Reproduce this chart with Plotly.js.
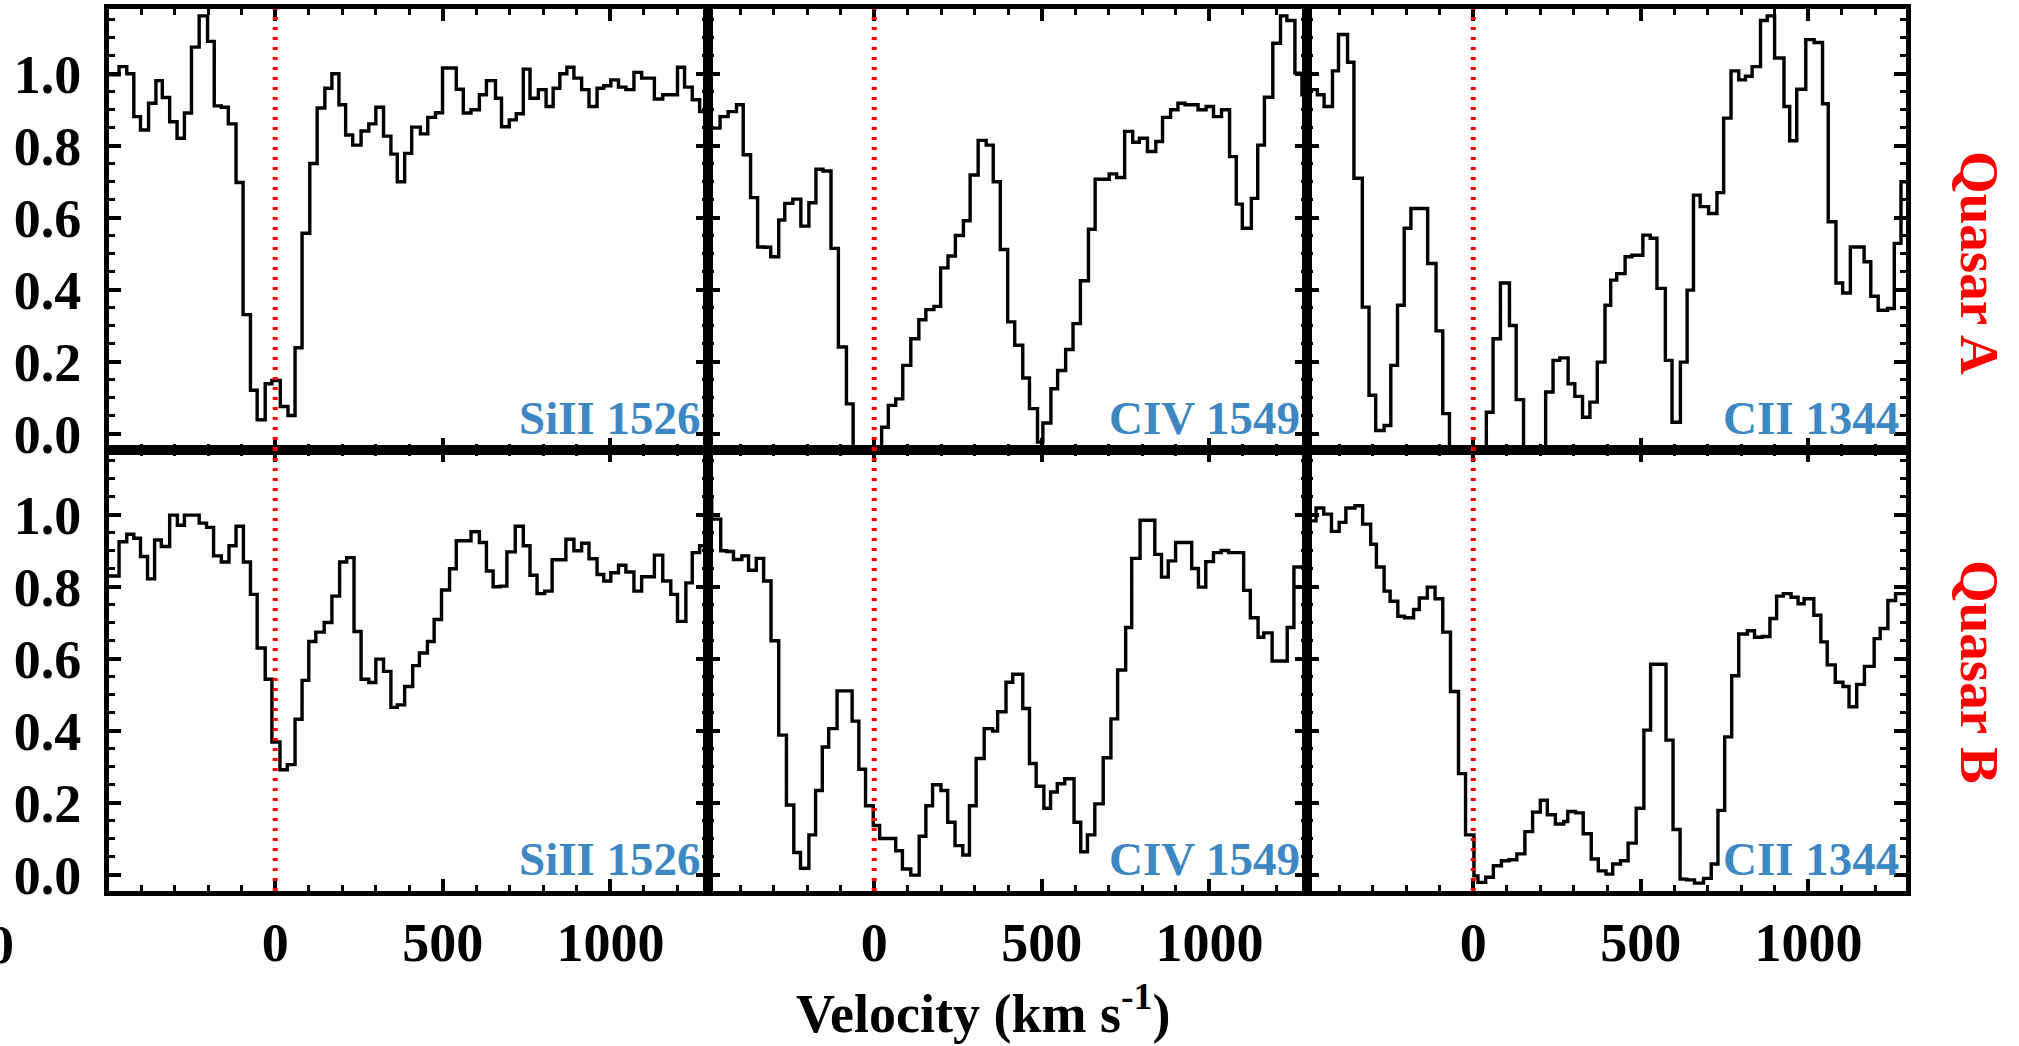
<!DOCTYPE html>
<html>
<head>
<meta charset="utf-8">
<script src="https://cdn.plot.ly/plotly-3.0.1.min.js"></script>
<style>
  html, body { margin: 0; padding: 0; background: #ffffff; }
  #chart { width: 2019px; height: 1046px; }
</style>
</head>
<body>
<div id="chart"></div>
<script>
// ---------------- data (velocity bin edge km/s, normalised flux) ----------------
const panelLines = ["SiII 1526", "CIV 1549", "CII 1344"];
const quasarNames = ["Quasar A", "Quasar B"];
const xTickVals = [0, 500, 1000];
const yTickVals = [0.0, 0.2, 0.4, 0.6, 0.8, 1.0];
const velRange = [-496, 1291];
const fluxRange = [-0.045, 1.18];

const siA = [[-496,0.997],[-466,1.020],[-443,1.000],[-422,0.881],[-402,0.844],[-378,0.918],[-356,0.981],[-337,0.934],[-315,0.867],[-293,0.821],[-271,0.891],[-250,1.074],[-227,1.161],[-202,1.090],[-182,0.911],[-161,0.907],[-140,0.861],[-117,0.698],[-96,0.331],[-74,0.121],[-54,0.039],[-30,0.139],[-10,0.148],[15,0.076],[38,0.051],[59,0.239],[80,0.557],[103,0.751],[125,0.905],[148,0.960],[169,1.000],[190,0.914],[210,0.830],[231,0.802],[256,0.841],[279,0.861],[300,0.907],[323,0.827],[345,0.777],[364,0.700],[386,0.779],[407,0.852],[433,0.833],[455,0.879],[478,0.892],[499,1.016],[540,0.957],[561,0.891],[584,0.900],[609,0.942],[630,0.981],[657,0.932],[675,0.853],[698,0.872],[719,0.889],[740,1.013],[760,0.932],[785,0.956],[808,0.909],[829,0.960],[849,1.000],[870,1.018],[891,0.988],[914,0.956],[936,0.909],[960,0.960],[980,0.967],[1001,0.983],[1024,0.963],[1046,0.956],[1070,1.004],[1093,0.988],[1131,0.930],[1156,0.942],[1200,1.018],[1221,0.963],[1244,0.928],[1266,0.895]];

const civA = [[-496,0.849],[-460,0.881],[-436,0.895],[-411,0.914],[-391,0.775],[-369,0.656],[-348,0.519],[-327,0.518],[-309,0.492],[-285,0.594],[-267,0.640],[-243,0.652],[-219,0.577],[-195,0.642],[-174,0.735],[-153,0.730],[-129,0.515],[-107,0.241],[-83,0.083],[-63,-0.100],[22,0.018],[42,0.079],[64,0.097],[85,0.190],[109,0.264],[133,0.317],[154,0.345],[178,0.354],[198,0.461],[220,0.494],[242,0.551],[266,0.592],[286,0.719],[310,0.815],[334,0.802],[355,0.700],[376,0.512],[398,0.311],[419,0.246],[443,0.155],[463,0.070],[487,-0.023],[503,0.030],[527,0.125],[547,0.176],[571,0.234],[593,0.306],[615,0.425],[639,0.568],[659,0.707],[701,0.722],[723,0.712],[747,0.840],[771,0.810],[791,0.821],[815,0.784],[840,0.812],[860,0.879],[884,0.900],[906,0.918],[927,0.914],[966,0.900],[990,0.909],[1012,0.881],[1036,0.900],[1060,0.770],[1080,0.638],[1098,0.571],[1125,0.654],[1144,0.802],[1164,0.935],[1189,1.085],[1212,1.161],[1231,1.148],[1255,1.002],[1276,0.942]];

const ciiA = [[-496,0.956],[-465,0.942],[-445,0.909],[-420,1.008],[-402,1.109],[-375,1.032],[-356,0.710],[-331,0.352],[-311,0.107],[-291,0.009],[-266,0.023],[-246,0.190],[-226,0.357],[-206,0.571],[-186,0.626],[-136,0.473],[-111,0.286],[-91,0.056],[-71,-0.100],[39,0.060],[59,0.264],[81,0.419],[108,0.301],[128,0.095],[150,-0.100],[216,0.116],[238,0.204],[258,0.211],[283,0.139],[303,0.104],[326,0.046],[348,0.088],[370,0.199],[393,0.357],[410,0.427],[428,0.445],[453,0.492],[473,0.496],[506,0.552],[528,0.543],[548,0.404],[573,0.204],[593,0.032],[618,0.199],[638,0.399],[657,0.663],[677,0.631],[702,0.612],[727,0.670],[747,0.877],[769,1.008],[792,0.983],[812,0.993],[832,1.020],[857,1.148],[877,1.161],[899,1.044],[927,0.909],[944,0.814],[965,0.957],[992,1.095],[1017,1.087],[1042,0.917],[1059,0.589],[1082,0.419],[1102,0.391],[1125,0.519],[1166,0.478],[1186,0.382],[1208,0.343],[1236,0.348],[1256,0.529],[1276,0.700]];

const siB = [[-496,0.830],[-466,0.925],[-443,0.946],[-422,0.935],[-402,0.884],[-381,0.822],[-360,0.930],[-340,0.912],[-315,0.999],[-292,0.971],[-271,0.999],[-227,0.977],[-205,0.965],[-184,0.886],[-161,0.869],[-138,0.914],[-117,0.968],[-95,0.869],[-74,0.779],[-54,0.630],[-30,0.543],[-10,0.369],[14,0.292],[36,0.306],[59,0.432],[80,0.540],[100,0.648],[121,0.674],[146,0.701],[169,0.774],[192,0.869],[213,0.881],[235,0.676],[256,0.543],[279,0.534],[300,0.599],[323,0.565],[345,0.465],[364,0.472],[386,0.523],[410,0.581],[430,0.616],[454,0.648],[474,0.709],[496,0.791],[520,0.850],[540,0.928],[584,0.953],[609,0.923],[630,0.844],[650,0.800],[671,0.802],[691,0.897],[716,0.968],[740,0.914],[760,0.832],[781,0.781],[804,0.788],[826,0.875],[867,0.932],[891,0.900],[914,0.921],[936,0.878],[960,0.834],[980,0.816],[1001,0.839],[1024,0.860],[1046,0.841],[1070,0.788],[1093,0.828],[1131,0.888],[1156,0.816],[1180,0.779],[1200,0.704],[1225,0.811],[1244,0.895],[1266,0.914]];

const civB = [[-496,1.048],[-485,0.988],[-458,0.900],[-440,0.898],[-420,0.876],[-395,0.886],[-375,0.846],[-352,0.879],[-330,0.816],[-308,0.650],[-285,0.388],[-262,0.194],[-240,0.062],[-220,0.018],[-195,0.111],[-175,0.234],[-155,0.355],[-136,0.406],[-111,0.511],[-66,0.427],[-46,0.293],[-26,0.192],[-3,0.137],[16,0.101],[64,0.067],[84,0.016],[109,-0.001],[134,0.107],[154,0.192],[174,0.250],[199,0.234],[219,0.146],[241,0.081],[264,0.055],[284,0.192],[304,0.323],[328,0.406],[353,0.399],[368,0.453],[393,0.535],[413,0.557],[443,0.462],[463,0.309],[483,0.246],[506,0.185],[526,0.230],[546,0.253],[568,0.267],[596,0.146],[616,0.064],[636,0.111],[658,0.197],[683,0.325],[706,0.433],[726,0.569],[750,0.687],[768,0.879],[793,0.985],[837,0.890],[857,0.827],[877,0.872],[899,0.923],[947,0.851],[967,0.799],[989,0.870],[1012,0.895],[1035,0.901],[1057,0.895],[1102,0.790],[1122,0.714],[1145,0.660],[1162,0.672],[1187,0.594],[1232,0.687],[1252,0.855],[1282,0.904]];

const ciiB = [[-496,0.983],[-469,1.019],[-446,1.002],[-423,0.954],[-400,0.979],[-380,1.019],[-353,1.025],[-330,0.974],[-306,0.918],[-289,0.855],[-266,0.788],[-248,0.760],[-225,0.718],[-205,0.714],[-178,0.737],[-161,0.769],[-137,0.799],[-114,0.767],[-91,0.674],[-68,0.509],[-44,0.281],[-23,0.111],[2,-0.003],[14,-0.021],[37,-0.007],[60,0.025],[84,0.039],[107,0.042],[130,0.058],[154,0.120],[177,0.174],[200,0.207],[221,0.167],[245,0.141],[270,0.148],[282,0.176],[305,0.172],[328,0.114],[352,0.044],[373,0.011],[396,0.002],[416,0.030],[439,0.039],[462,0.088],[486,0.185],[509,0.402],[529,0.585],[575,0.374],[596,0.126],[617,-0.012],[637,-0.014],[660,-0.023],[687,-0.010],[710,0.030],[730,0.179],[750,0.383],[771,0.553],[792,0.669],[818,0.678],[839,0.660],[862,0.662],[885,0.712],[905,0.774],[925,0.781],[948,0.771],[969,0.753],[987,0.767],[1016,0.721],[1037,0.647],[1056,0.583],[1080,0.535],[1103,0.523],[1121,0.467],[1144,0.529],[1167,0.579],[1196,0.656],[1214,0.684],[1237,0.762],[1260,0.781]];

// ---------------- build ----------------
const spectra = [siA, civA, ciiA, siB, civB, ciiB];
const SERIF = 'Liberation Serif, Times New Roman, serif';
const LABEL_BLUE = 'rgb(61,135,194)';
const W = 2019, H = 1046, ML = 109, MR = 113, MT = 9, MB = 155;
const PW = W - ML - MR, PH = H - MT - MB;
const px2x = px => (px - ML) / PW;
const px2y = py => (H - MB - py) / PH;

const traces = spectra.map((pairs, i) => {
  const k = i + 1;
  const x = pairs.map(p => p[0]);
  const y = pairs.map(p => p[1]);
  x.push(velRange[1] + 20);
  y.push(y[y.length - 1]);
  return {
    x: x, y: y,
    xaxis: k === 1 ? 'x' : 'x' + k,
    yaxis: k === 1 ? 'y' : 'y' + k,
    type: 'scatter', mode: 'lines',
    line: { shape: 'hv', color: '#000000', width: 3.4 },
    hoverinfo: 'skip', showlegend: false
  };
});

const tickFont = { family: SERIF, size: 54, color: '#000000', weight: 'bold' };
const axisCommon = {
  showline: true, linecolor: '#000000', linewidth: 5, mirror: 'allticks',
  ticks: 'inside', ticklen: 12, tickwidth: 4, tickcolor: '#000000',
  showgrid: false, zeroline: false, fixedrange: true, tickfont: tickFont
};

const layout = {
  width: W, height: H,
  margin: { l: ML, r: MR, t: MT, b: MB, pad: 0 },
  paper_bgcolor: '#ffffff', plot_bgcolor: '#ffffff',
  showlegend: false,
  shapes: [], annotations: []
};

const xDomains = [[0, 1/3], [1/3, 2/3], [2/3, 1]];
const yDomains = [[0.5, 1], [0, 0.5]];

for (let r = 0; r < 2; r++) {
  for (let c = 0; c < 3; c++) {
    const k = r * 3 + c + 1;
    const xn = k === 1 ? 'xaxis' : 'xaxis' + k;
    const yn = k === 1 ? 'yaxis' : 'yaxis' + k;
    const xid = k === 1 ? 'x' : 'x' + k;
    const yid = k === 1 ? 'y' : 'y' + k;
    layout[xn] = Object.assign({}, axisCommon, {
      domain: xDomains[c], anchor: yid, range: velRange,
      tickmode: 'array', tickvals: xTickVals, ticktext: xTickVals.map(String),
      showticklabels: r === 1, ticklabelstandoff: 0,
      minor: { dtick: 100, tick0: 0, ticks: 'inside', ticklen: 6, tickwidth: 3, tickcolor: '#000000', showgrid: false }
    });
    layout[yn] = Object.assign({}, axisCommon, {
      domain: yDomains[r], anchor: xid, range: fluxRange,
      tickmode: 'array', tickvals: yTickVals, ticktext: yTickVals.map(v => v.toFixed(1)),
      showticklabels: c === 0, ticklabelstandoff: 12,
      minor: { dtick: 0.05, tick0: 0, ticks: 'inside', ticklen: 6, tickwidth: 3, tickcolor: '#000000', showgrid: false }
    });
    layout.shapes.push({
      type: 'line', xref: xid, yref: yid + ' domain',
      x0: 0, x1: 0, y0: 0, y1: 1, layer: 'above',
      line: { color: 'rgb(255,0,0)', width: 5, dash: '3px,7px' }
    });
    layout.annotations.push({
      xref: xid + ' domain', yref: yid, x: 1, y: 0,
      xanchor: 'right', yanchor: 'bottom', xshift: -5, yshift: -12,
      text: panelLines[c], showarrow: false,
      font: { family: SERIF, size: 47, color: LABEL_BLUE, weight: 'bold' }
    });
  }
}

const quasarY = [263, 672];
quasarNames.forEach((q, i) => {
  layout.annotations.push({
    xref: 'paper', yref: 'paper', x: px2x(1980), y: px2y(quasarY[i]),
    xanchor: 'center', yanchor: 'middle', textangle: 90,
    text: q, showarrow: false,
    font: { family: SERIF, size: 55, color: 'rgb(255,0,0)', weight: 'bold' }
  });
});

// axis title
layout.annotations.push({
  xref: 'paper', yref: 'paper', x: px2x(983), y: px2y(1046),
  xanchor: 'center', yanchor: 'bottom',
  text: 'Velocity (km s<sup>-1</sup>)', showarrow: false,
  font: { family: SERIF, size: 54, color: '#000000', weight: 'bold' }
});

// clipped fragment of a tick label at the figure's left edge (as in the source image)
layout.annotations.push({
  xref: 'paper', yref: 'paper', x: px2x(0), y: px2y(945),
  xanchor: 'center', yanchor: 'middle',
  text: '0', showarrow: false,
  font: { family: SERIF, size: 54, color: '#000000', weight: 'bold' }
});

Plotly.newPlot('chart', traces, layout, { displayModeBar: false, staticPlot: true });
</script>
</body>
</html>
